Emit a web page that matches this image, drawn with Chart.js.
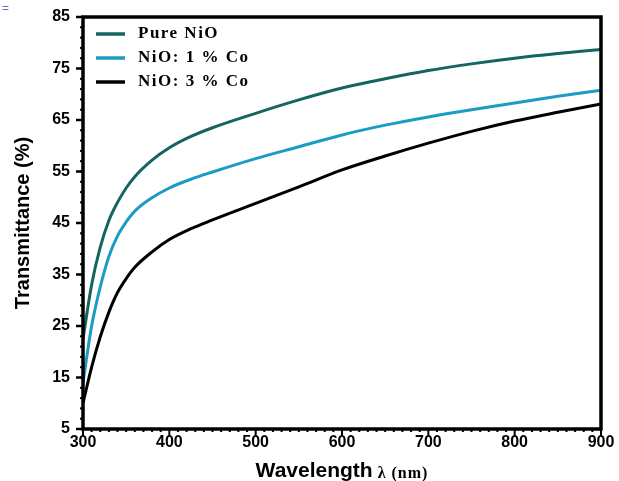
<!DOCTYPE html>
<html>
<head>
<meta charset="utf-8">
<script src="https://cdn.jsdelivr.net/npm/chart.js@4"></script>
<style>
  html, body { margin: 0; padding: 0; background: #fff; }
  #wrap { width: 619px; height: 481px; position: relative; }
</style>
</head>
<body>
<div id="wrap"><canvas id="graph"></canvas></div>
<script>
// длины волн (нм) и пропускание (%)
let wavelength = [300, 310, 320, 330, 340, 350, 360, 380, 400, 425, 450, 500, 550, 600, 650, 700, 750, 800, 850, 900];
let pureNiO = [22.5, 33, 40.3, 45.5, 49, 51.8, 54, 57.2, 59.6, 61.8, 63.5, 66.3, 68.9, 71.2, 73, 74.6, 75.9, 77, 77.9, 78.7];
let co1 = [14, 25, 32.6, 38.5, 42.5, 45.2, 47.3, 49.9, 51.8, 53.5, 54.9, 57.5, 59.8, 62.1, 64, 65.6, 67, 68.3, 69.6, 70.8];
let co3 = [10, 17, 22.9, 27.7, 31.5, 34.2, 36.4, 39.4, 41.8, 43.9, 45.6, 48.8, 52, 55.3, 58, 60.5, 62.8, 64.8, 66.5, 68.1];
let seriesNames = ['Pure NiO', 'NiO: 1 % Co', 'NiO: 3 % Co'];
let seriesColors = ['#146460', '#1b9cc2', '#000000'];
let xTicks = [300, 400, 500, 600, 700, 800, 900];
let yTicks = [5, 15, 25, 35, 45, 55, 65, 75, 85];

let toPoints = function (ys) {
  return wavelength.map(function (x, i) { return { x: x, y: ys[i] }; });
};

let makeSet = function (i, ys) {
  return {
    label: seriesNames[i],
    data: toPoints(ys),
    borderColor: seriesColors[i],
    backgroundColor: seriesColors[i],
    borderWidth: 3,
    pointRadius: 0,
    cubicInterpolationMode: 'monotone'
  };
};

// рамка, засечки, легенда и подпись оси X
let framePlugin = {
  id: 'frame',
  afterDraw: function (chart) {
    let c = chart.ctx;
    let a = chart.chartArea;
    let xs = chart.scales.x;
    let ys = chart.scales.y;
    c.save();
    c.strokeStyle = '#000';
    // мелкие засечки
    c.lineWidth = 2;
    for (let v = 300; v <= 900; v += 10) {
      let px = xs.getPixelForValue(v);
      let len = (v % 100 === 0) ? 7 : 3;
      c.beginPath(); c.moveTo(px, a.bottom); c.lineTo(px, a.bottom + len); c.stroke();
    }
    for (let v = 5; v <= 85; v += 2) {
      let py = ys.getPixelForValue(v);
      c.beginPath(); c.moveTo(a.left, py); c.lineTo(a.left - 3, py); c.stroke();
    }
    c.lineWidth = 2.5;
    yTicks.forEach(function (v) {
      let py = ys.getPixelForValue(v);
      c.beginPath(); c.moveTo(a.left, py); c.lineTo(a.left - 7, py); c.stroke();
    });
    c.lineWidth = 3.5;
    c.strokeRect(a.left, a.top, a.right - a.left, a.bottom - a.top);

    // легенда
    c.textBaseline = 'middle';
    c.textAlign = 'left';
    c.font = 'bold 17px "Liberation Serif", "Times New Roman", serif';
    c.letterSpacing = '1.5px';
    seriesNames.forEach(function (name, i) {
      let ly = a.top + 17 + i * 24;
      c.strokeStyle = seriesColors[i];
      c.lineWidth = 3.5;
      c.beginPath(); c.moveTo(a.left + 13, ly); c.lineTo(a.left + 42, ly); c.stroke();
      c.fillStyle = '#000';
      c.fillText(name, a.left + 55, ly);
    });
    c.letterSpacing = '0px';

    // подпись оси X
    c.fillStyle = '#000';
    c.textBaseline = 'alphabetic';
    c.font = 'bold 21px "Liberation Sans", Arial, sans-serif';
    let t1 = 'Wavelength';
    let w1 = c.measureText(t1).width;
    c.font = 'bold 16px "Liberation Serif", "Times New Roman", serif';
    c.letterSpacing = '1px';
    let t2 = ' λ (nm)';
    let w2 = c.measureText(t2).width;
    let x0 = (a.left + a.right) / 2 - (w1 + w2) / 2;
    c.letterSpacing = '0px';
    c.font = 'bold 21px "Liberation Sans", Arial, sans-serif';
    c.fillText(t1, x0, 477);
    c.font = 'bold 16px "Liberation Serif", "Times New Roman", serif';
    c.letterSpacing = '1px';
    c.fillText(t2, x0 + w1, 478);
    c.letterSpacing = '0px';
    c.fillStyle = '#7a63b8';
    c.font = '12px "Liberation Sans", Arial, sans-serif';
    c.fillText('=', 2, 12);
    c.restore();
  }
};

let ctx = document.getElementById('graph').getContext('2d');
let chart = new Chart(ctx, {
  type: 'line',
  data: {
    datasets: [makeSet(0, pureNiO), makeSet(1, co1), makeSet(2, co3)]
  },
  options: {
    responsive: true,
    maintainAspectRatio: false,
    animation: false,
    layout: { padding: { left: 11, right: 18, top: 17, bottom: 0 } },
    plugins: {
      tooltip: { enabled: false },
      legend: { display: false }
    },
    scales: {
      x: {
        type: 'linear',
        min: 300,
        max: 900,
        afterBuildTicks: function (s) { s.ticks = xTicks.map(function (v) { return { value: v }; }); },
        afterFit: function (s) { s.height = 52; s.paddingLeft = 0; s.paddingRight = 0; },
        grid: { display: false, drawTicks: false },
        border: { display: false },
        ticks: {
          padding: 4,
          color: '#000',
          maxRotation: 0,
          font: { family: '"Liberation Sans", Arial, sans-serif', size: 16, weight: 'bold' }
        },
        title: { display: false }
      },
      y: {
        min: 5,
        max: 85,
        afterBuildTicks: function (s) { s.ticks = yTicks.map(function (v) { return { value: v }; }); },
        afterFit: function (s) { s.width = 72; s.paddingTop = 0; s.paddingBottom = 0; },
        grid: { display: false, drawTicks: false },
        border: { display: false },
        ticks: {
          padding: 13,
          color: '#000',
          font: { family: '"Liberation Sans", Arial, sans-serif', size: 16, weight: 'bold' }
        },
        title: {
          display: true,
          text: 'Transmittance (%)',
          color: '#000',
          padding: { top: 0, bottom: 4 },
          font: { family: '"Liberation Sans", Arial, sans-serif', size: 20, weight: 'bold' }
        }
      }
    }
  },
  plugins: [framePlugin]
});
</script>
</body>
</html>
